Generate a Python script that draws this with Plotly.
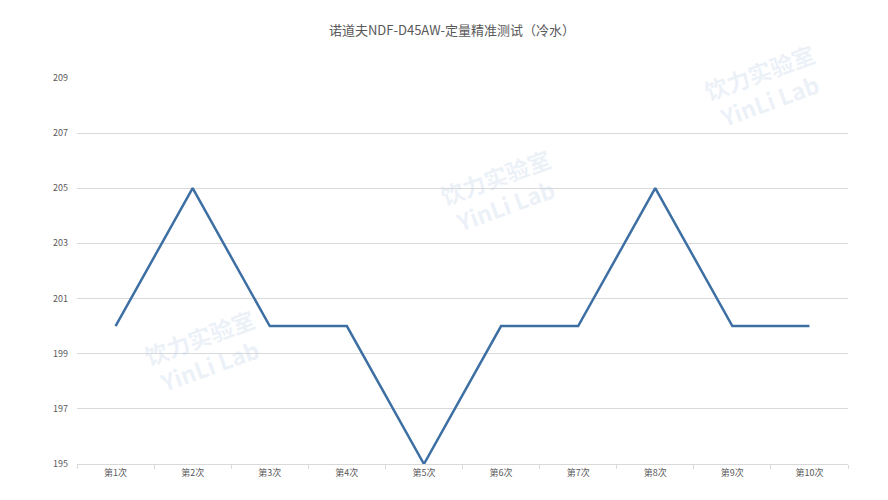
import plotly.graph_objects as go

categories = ["第1次", "第2次", "第3次", "第4次", "第5次", "第6次", "第7次", "第8次", "第9次", "第10次"]
values = [200, 205, 200, 200, 195, 200, 200, 205, 200, 200]
y_ticks = [195, 197, 199, 201, 203, 205, 207, 209]
title_text = "诺道夫NDF-D45AW-定量精准测试（冷水）"
watermark_text = "饮力实验室<br>YinLi Lab"

fig = go.Figure()
fig.add_trace(go.Scatter(
    x=categories, y=values, mode="lines",
    line=dict(color="#3d6fa3", width=2.5),
    showlegend=False, hoverinfo="x+y",
))

font_family = "Noto Sans CJK SC, Noto Sans, sans-serif"

# faint watermarks (paper coordinates)
marks = [(0.892, 0.977), (0.549, 0.705), (0.166, 0.292)]
anns = []
for (px, py) in marks:
    anns.append(dict(xref="paper", yref="paper", x=px, y=py, text="<b>" + watermark_text + "</b>",
                     showarrow=False, textangle=-20, align="center",
                     xanchor="center", yanchor="middle",
                     font=dict(size=23, color="rgba(200,215,235,0.35)", family=font_family)))

fig.update_layout(
    width=888, height=500,
    margin=dict(l=69, r=48, t=69, b=44, autoexpand=False),
    paper_bgcolor="white", plot_bgcolor="white",
    title=dict(text=title_text, x=0.5, xanchor="center", y=0.956, yanchor="middle",
               font=dict(size=13, color="#595959", family=font_family)),
    xaxis=dict(
        type="category", showgrid=False, zeroline=False,
        showline=True, linecolor="#d9d9d9", linewidth=1,
        ticks="outside", tickson="boundaries", ticklen=4, tickcolor="#d9d9d9",
        tickfont=dict(size=9, color="#595959", family=font_family),
        range=[-0.5, 9.5],
    ),
    yaxis=dict(
        range=[195, 209.03], tickmode="array", tickvals=y_ticks,
        showgrid=True, gridcolor="#d9d9d9", gridwidth=1, zeroline=False,
        showline=False, ticks="",
        tickfont=dict(size=9, color="#595959", family=font_family),
        ticklabelstandoff=8,
    ),
    annotations=anns,
)

fig.write_html("out.html")
